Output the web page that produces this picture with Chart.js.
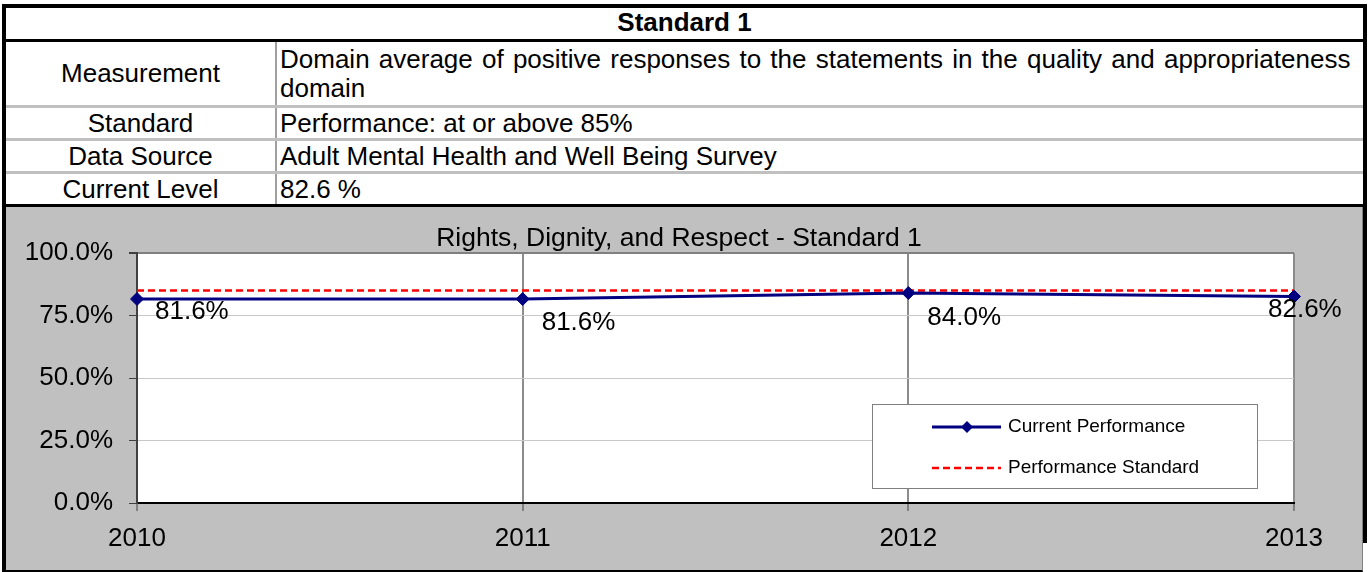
<!DOCTYPE html>
<html>
<head>
<meta charset="utf-8">
<script src="https://cdn.jsdelivr.net/npm/chart.js@4"></script>
<style>
  body { margin: 0; background: #fff; font-family: "Liberation Sans", Arial, sans-serif; }
  #tbl { position: absolute; left: 2px; top: 4px; width: 1365px; box-sizing: border-box;
         border: 4px solid #000; border-bottom: none; font-size: 26px; color: #000; }
  .row { display: flex; align-items: stretch; border-bottom: 3px solid #c0c0c0; box-sizing: content-box; }
  .row.head { border-bottom-color: #000; justify-content: center; align-items: center; font-weight: bold;
              height: 28px; padding-bottom: 3px; }
  .row.last { border-bottom-color: #000; }
  .lab { width: 269px; border-right: 2px solid #a0a0a0; text-align: center; display: flex; align-items: center; justify-content: center; }
  .val { flex: 1; padding-left: 3px; display: flex; align-items: center; line-height: 29px; }
  .val.wide { word-spacing: 2px; }
  #chartBox { position: absolute; left: 2px; top: 207px; width: 1361px; height: 365px; box-sizing: border-box;
              border-left: 4px solid #000; border-bottom: 2px solid #000; border-right: 1px solid #808080; background: #c0c0c0; }
  #rightBar { position: absolute; left: 1363px; top: 207px; width: 4px; height: 336px; background: #000; }
  canvas { display: block; }
</style>
</head>
<body>
<div id="tbl">
  <div class="row head">Standard 1</div>
  <div class="row" style="height:63px"><div class="lab">Measurement</div><div class="val wide">Domain average of positive responses to the statements in the quality and appropriateness domain</div></div>
  <div class="row" style="height:30px"><div class="lab">Standard</div><div class="val">Performance: at or above 85%</div></div>
  <div class="row" style="height:30px"><div class="lab">Data Source</div><div class="val">Adult Mental Health and Well Being Survey</div></div>
  <div class="row last" style="height:30px"><div class="lab">Current Level</div><div class="val">82.6 %</div></div>
</div>
<div id="chartBox"><canvas id="chart" width="1356" height="363"></canvas></div>
<div id="rightBar"></div>

<script>
// data
const years = ['2010', '2011', '2012', '2013'];
const currentPerformance = [81.6, 81.6, 84.0, 82.6];
const performanceStandard = [85, 85, 85, 85];
const chartTitle = 'Rights, Dignity, and Respect - Standard 1';
const seriesNames = ['Current Performance', 'Performance Standard'];

const FONT = '"Liberation Sans", Arial, sans-serif';
const NAVY = '#000080';
const RED = '#ff0000';

// gray background + white plot area
const backgroundPlugin = {
  id: 'bg',
  beforeDraw(chart) {
    const { ctx, chartArea: a } = chart;
    ctx.save();
    ctx.fillStyle = '#c0c0c0';
    ctx.fillRect(0, 0, chart.width, chart.height);
    ctx.fillStyle = '#ffffff';
    ctx.fillRect(a.left, a.top, a.right - a.left, a.bottom - a.top);
    ctx.restore();
  }
};

// title drawn centred on the whole canvas
const titlePlugin = {
  id: 'xlTitle',
  afterDraw(chart) {
    const ctx = chart.ctx;
    ctx.save();
    ctx.font = '26.5px ' + FONT;
    ctx.fillStyle = '#000';
    ctx.textAlign = 'center';
    ctx.textBaseline = 'alphabetic';
    ctx.fillText(chartTitle, chart.width / 2 - 5, 39);
    ctx.restore();
  }
};

// value labels, placed like the excel ones
const labelOffsets = [[18, 13], [19, 24], [19, 25], [-26, 13]];
const valueLabelPlugin = {
  id: 'valueLabels',
  afterDatasetsDraw(chart) {
    const ctx = chart.ctx;
    const meta = chart.getDatasetMeta(0);
    ctx.save();
    ctx.font = '26px ' + FONT;
    ctx.fillStyle = '#000';
    ctx.textAlign = 'left';
    ctx.textBaseline = 'middle';
    meta.data.forEach((pt, i) => {
      const off = labelOffsets[i] || [18, 12];
      ctx.fillText(currentPerformance[i].toFixed(1) + '%', pt.x + off[0], pt.y + off[1]);
    });
    ctx.restore();
  }
};

// legend box inside the plot area (bottom right)
const legendPlugin = {
  id: 'boxLegend',
  afterDraw(chart) {
    const { ctx, chartArea: a } = chart;
    const w = 385, h = 84;
    const x = a.right - 37 - w, y = a.bottom - 15 - h;
    ctx.save();
    ctx.fillStyle = '#fff';
    ctx.fillRect(x, y, w, h);
    ctx.strokeStyle = '#808080';
    ctx.lineWidth = 1;
    ctx.strokeRect(x + 0.5, y + 0.5, w, h);

    const rows = [y + 23, y + 64];
    // current performance
    ctx.strokeStyle = NAVY;
    ctx.lineWidth = 3;
    ctx.beginPath();
    ctx.moveTo(x + 60, rows[0]);
    ctx.lineTo(x + 129, rows[0]);
    ctx.stroke();
    ctx.fillStyle = NAVY;
    const cx = x + 95, r = 6;
    ctx.beginPath();
    ctx.moveTo(cx, rows[0] - r); ctx.lineTo(cx + r, rows[0]); ctx.lineTo(cx, rows[0] + r); ctx.lineTo(cx - r, rows[0]);
    ctx.closePath();
    ctx.fill();
    // performance standard
    ctx.strokeStyle = RED;
    ctx.lineWidth = 2.5;
    ctx.setLineDash([7, 4]);
    ctx.beginPath();
    ctx.moveTo(x + 60, rows[1]);
    ctx.lineTo(x + 129, rows[1]);
    ctx.stroke();
    ctx.setLineDash([]);

    ctx.font = '19px ' + FONT;
    ctx.fillStyle = '#000';
    ctx.textAlign = 'left';
    ctx.textBaseline = 'middle';
    ctx.fillText(seriesNames[0], x + 136, rows[0]);
    ctx.fillText(seriesNames[1], x + 136, rows[1]);
    ctx.restore();
  }
};

new Chart(document.getElementById('chart').getContext('2d'), {
  type: 'line',
  data: {
    labels: years,
    datasets: [
      {
        label: seriesNames[0],
        data: currentPerformance,
        borderColor: NAVY,
        backgroundColor: NAVY,
        borderWidth: 3,
        pointStyle: 'rectRot',
        pointRadius: 6.5,
        pointBackgroundColor: NAVY,
        pointBorderColor: NAVY,
        pointBorderWidth: 1,
        tension: 0,
        clip: false
      },
      {
        label: seriesNames[1],
        data: performanceStandard,
        borderColor: RED,
        borderWidth: 2.5,
        borderDash: [7, 4],
        pointRadius: 0,
        tension: 0,
        clip: false
      }
    ]
  },
  options: {
    responsive: false,
    animation: false,
    layout: { padding: { top: 46, right: 68, left: 0, bottom: 0 } },
    plugins: {
      legend: { display: false },
      title: { display: false },
      tooltip: { enabled: false }
    },
    scales: {
      x: {
        type: 'category',
        offset: false,
        afterFit(scale) { scale.height = 67; },
        grid: {
          color: ctx => ctx.index === 0 ? 'rgba(0,0,0,0)' : '#8c8c8c',
          lineWidth: 2,
          tickLength: 8,
          tickColor: '#808080',
          drawOnChartArea: true
        },
        border: { color: '#000', width: 2 },
        ticks: {
          color: '#000',
          font: { family: FONT, size: 26 },
          padding: 12,
          maxRotation: 0,
          autoSkip: false
        }
      },
      y: {
        min: 0,
        max: 100,
        afterFit(scale) { scale.width = 131; },
        grid: {
          color: ctx => ctx.tick.value === 100 ? '#808080' : (ctx.tick.value === 0 ? 'rgba(0,0,0,0)' : '#c8c8c8'),
          lineWidth: ctx => ctx.tick.value === 100 ? 2 : 1,
          tickLength: 8,
          tickColor: '#404040'
        },
        border: { color: '#404040', width: 2 },
        ticks: {
          stepSize: 25,
          color: '#000',
          font: { family: FONT, size: 26 },
          padding: 16,
          callback: v => v.toFixed(1) + '%'
        }
      }
    }
  },
  plugins: [backgroundPlugin, titlePlugin, valueLabelPlugin, legendPlugin]
});
</script>
</body>
</html>
